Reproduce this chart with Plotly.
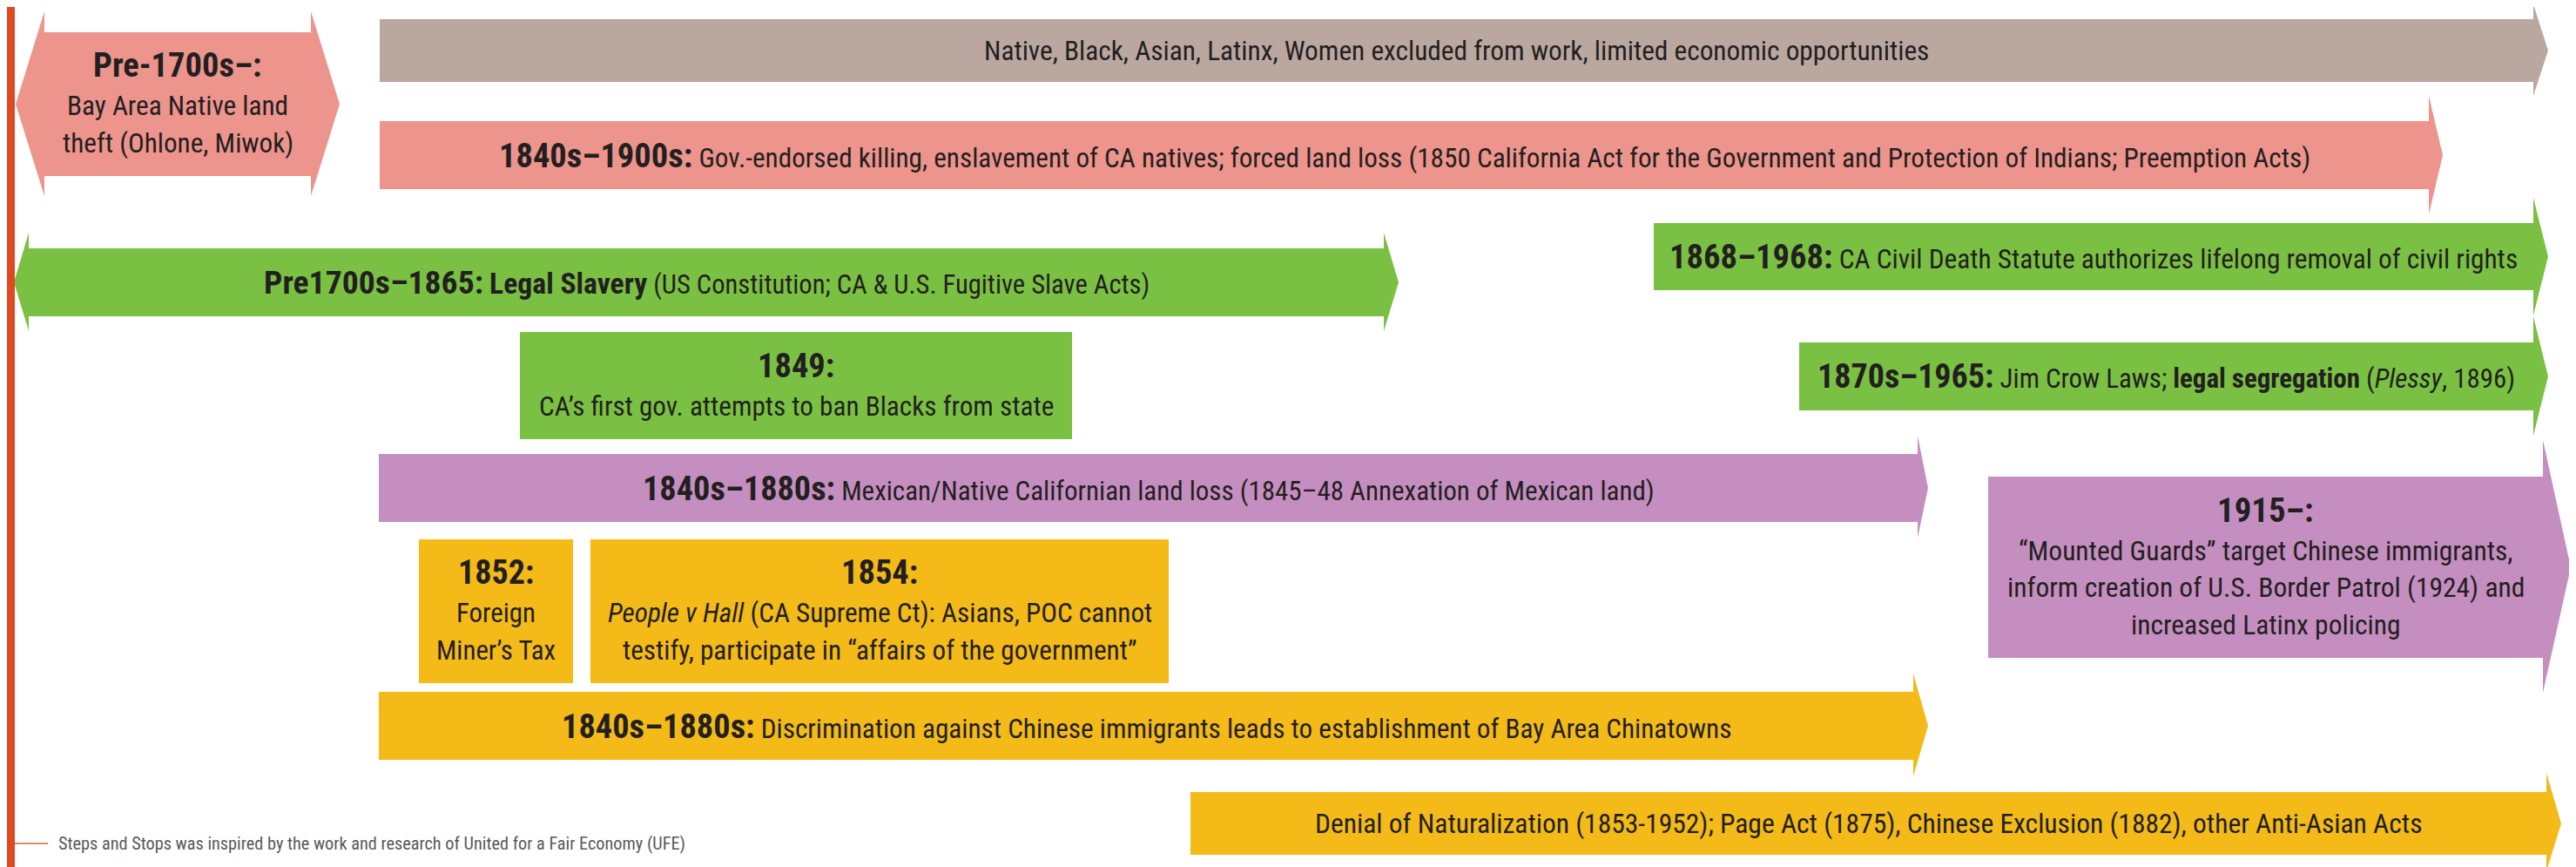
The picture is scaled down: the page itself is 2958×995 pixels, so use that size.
import plotly.graph_objects as go

# ---------------- data ----------------
event_ids = ["pre1700_land", "excluded_work", "killing_1840", "slavery", "ban_1849",
             "civil_death", "jim_crow", "mexican_land", "mounted_guards",
             "miners_tax", "people_v_hall", "chinatowns", "naturalization"]

# span along the timeline (axis units)
span_start = [51, 436, 436, 33, 597, 1899, 2066, 435, 2283, 481, 678, 435, 1367]
span_end = [357, 2909, 2789, 1589, 1231, 2909, 2909, 2202, 2920, 658, 1342, 2197, 2924]
# lane extent (axis units, top -> bottom)
lane_top = [37, 22, 139, 285, 381, 256, 393, 521, 547, 619, 619, 794, 909]
lane_bottom = [202, 94, 217, 363, 504, 333, 471, 599, 755, 784, 784, 872, 981]

# open-ended spans: which ends continue
continues = ["both", "right", "right", "both", "none", "right", "right", "right", "right",
             "none", "none", "right", "right"]

event_group = ["native", "all", "native", "black", "black", "black", "black",
               "latinx", "latinx", "asian", "asian", "asian", "asian"]

event_date = ["Pre-1700s–:", "", "1840s–1900s:", "Pre1700s–1865:", "1849:",
              "1868–1968:", "1870s–1965:", "1840s–1880s:", "1915–:",
              "1852:", "1854:", "1840s–1880s:", ""]

event_desc = [
    ["Bay Area Native land", "theft (Ohlone, Miwok)"],
    ["Native, Black, Asian, Latinx, Women excluded from work, limited economic opportunities"],
    ["Gov.-endorsed killing, enslavement of CA natives; forced land loss (1850 California Act for the Government and Protection of Indians; Preemption Acts)"],
    ["<b><span style='font-size:{big}px'>Legal Slavery</span></b> (US Constitution; CA &amp; U.S. Fugitive Slave Acts)"],
    ["CA’s first gov. attempts to ban Blacks from state"],
    ["CA Civil Death Statute authorizes lifelong removal of civil rights"],
    ["Jim Crow Laws; <b>legal segregation</b> (<i>Plessy</i>, 1896)"],
    ["Mexican/Native Californian land loss (1845–48 Annexation of Mexican land)"],
    ["“Mounted Guards” target Chinese immigrants,", "inform creation of U.S. Border Patrol (1924) and",
     "increased Latinx policing"],
    ["Foreign", "Miner’s Tax"],
    ["<i>People v Hall</i> (CA Supreme Ct): Asians, POC cannot",
     "testify, participate in “affairs of the government”"],
    ["Discrimination against Chinese immigrants leads to establishment of Bay Area Chinatowns"],
    ["Denial of Naturalization (1853-1952); Page Act (1875), Chinese Exclusion (1882), other Anti-Asian Acts"],
]

footer_text = "Steps and Stops was inspired by the work and research of United for a Fair Economy (UFE)"

# ---------------- style ----------------
W, H = 2958, 995
PAGE_OFFSET = 8  # default page margin around the plot div
group_colors = {"native": "#ED948C", "all": "#BAA7A0", "black": "#7AC143",
                "latinx": "#C58EC0", "asian": "#F4BA18"}
# arrow-head geometry per event: (tip length, overhang above, overhang below)
head_style = [(33, 24, 23), (17, 17, 16), (16, 29, 29), (17, 18, 17), (0, 0, 0),
              (17, 29, 29), (17, 30, 29), (12, 21, 18), (32, 42, 40),
              (0, 0, 0), (0, 0, 0), (17, 21, 19), (17, 22, 19)]
# per-box text scale
text_scale = [1.04, 1.043, 1.04, 1.02, 1.04, 1.043, 1.03, 1.035, 1.05, 1.03, 1.04, 1.039, 1.049]
FONT = "'Roboto Condensed', 'Liberation Sans Narrow', 'Arial Narrow', Roboto, sans-serif"
TEXT_COLOR = "#231F20"
BODY_SIZE = 30
HEAD_SIZE = 37
BIG_SIZE = 33
HEAD_GAP = 47
LINE_GAP = 42.5

fig = go.Figure()


def arrow_polygon(x0, x1, yt, yb, mode, tip, up, down):
    ym = (yt + yb) / 2
    xs, ys = [x0, x1], [yt, yt]
    if mode in ("right", "both"):
        xs += [x1, x1 + tip, x1, x1]
        ys += [yt - up, ym, yb + down, yb]
    xs += [x1, x0]
    ys += [yb, yb]
    if mode == "both":
        xs += [x0, x0 - tip, x0, x0]
        ys += [yb + down, ym, yt - up, yt]
    xs.append(xs[0])
    ys.append(ys[0])
    return xs, ys


for i in range(len(event_ids)):
    tip, up, down = head_style[i]
    xs, ys = arrow_polygon(span_start[i], span_end[i], lane_top[i], lane_bottom[i],
                           continues[i], tip, up, down)
    col = group_colors[event_group[i]]
    fig.add_trace(go.Scatter(x=xs, y=ys, mode="lines", fill="toself", fillcolor=col,
                             line=dict(width=0, color=col), hoverinfo="skip",
                             showlegend=False, name=event_ids[i]))

# left timeline bar and footer rule
fig.add_trace(go.Scatter(x=[0, 17, 17, 0, 0], y=[0, 0, H, H, 0], mode="lines", fill="toself",
                         fillcolor="#DE4A1F", line=dict(width=0, color="#DE4A1F"),
                         hoverinfo="skip", showlegend=False))
fig.add_trace(go.Scatter(x=[17, 55], y=[968, 968], mode="lines",
                         line=dict(width=2, color="#EA8667"), hoverinfo="skip",
                         showlegend=False))

annotations = []
for i in range(len(event_ids)):
    f = text_scale[i]
    body = round(BODY_SIZE * f, 1)
    head = round(HEAD_SIZE * f, 1)
    big = round(BIG_SIZE * f, 1)
    desc = [d.replace("{big}", str(big)) for d in event_desc[i]]
    cx = (span_start[i] + span_end[i]) / 2
    cy = (lane_top[i] + lane_bottom[i]) / 2
    if len(desc) == 1 and continues[i] != "none":
        # single-line arrow: bold date inline
        if event_date[i]:
            txt = f"<b><span style='font-size:{head}px'>{event_date[i]}</span></b> {desc[0]}"
        else:
            txt = desc[0]
        lines, sizes = [txt], [body]
    else:
        lines = [f"<b>{event_date[i]}</b>"] + desc
        sizes = [head] + [body] * len(desc)
    n = len(lines)
    if n == 1:
        ys = [cy]
    else:
        total = HEAD_GAP + LINE_GAP * (n - 2)
        first = cy - total / 2
        ys = [first] + [first + HEAD_GAP + LINE_GAP * k for k in range(n - 1)]
    for txt, y, s in zip(lines, ys, sizes):
        annotations.append(dict(x=cx, y=y, xref="x", yref="y", text=txt, showarrow=False,
                                xanchor="center", yanchor="middle",
                                font=dict(family=FONT, size=s, color=TEXT_COLOR)))

annotations.append(dict(x=65, y=968, xref="x", yref="y", text=footer_text, showarrow=False,
                        xanchor="left", yanchor="middle",
                        font=dict(family=FONT, size=20.3, color="#58595B")))

fig.update_layout(
    width=W - PAGE_OFFSET, height=H - PAGE_OFFSET,
    margin=dict(l=0, r=0, t=0, b=0),
    paper_bgcolor="white", plot_bgcolor="white",
    showlegend=False,
    annotations=annotations,
    xaxis=dict(range=[PAGE_OFFSET, W], visible=False, fixedrange=True),
    yaxis=dict(range=[H, PAGE_OFFSET], visible=False, fixedrange=True),
)

fig.write_html("out.html")
